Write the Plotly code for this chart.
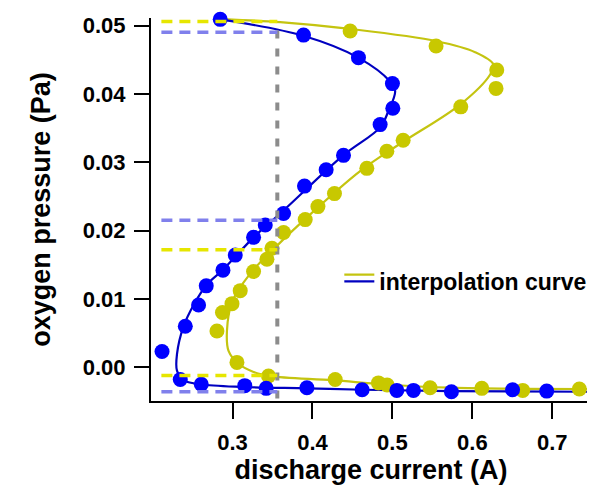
import plotly.graph_objects as go

# ---------------- data ----------------
blue_x = [0.2846, 0.3888, 0.4575, 0.5000, 0.5005, 0.4846, 0.4388, 0.4171, 0.3900,
          0.3638, 0.3409, 0.3263, 0.3034, 0.2880, 0.2671, 0.2575, 0.2409, 0.2118,
          0.2346, 0.2609, 0.3153, 0.3421, 0.3930, 0.4621, 0.5055, 0.5263, 0.5738,
          0.6503, 0.6930]
blue_y = [0.0509, 0.0486, 0.0453, 0.0415, 0.0379, 0.0355, 0.0310, 0.0289, 0.0265,
          0.0225, 0.0208, 0.0190, 0.0164, 0.0142, 0.0119, 0.0091, 0.0060, 0.0023,
          -0.0018, -0.0025, -0.0027, -0.0031, -0.0030, -0.0033, -0.0034, -0.0034,
          -0.0036, -0.0033, -0.0035]

yellow_x = [0.3596, 0.4471, 0.5546, 0.6305, 0.6296, 0.5855, 0.5134, 0.4930, 0.4680,
            0.4275, 0.4068, 0.3909, 0.3638, 0.3493, 0.3430, 0.3263, 0.3096, 0.2993,
            0.2874, 0.2805, 0.3055, 0.3450, 0.4284, 0.4825, 0.4934, 0.5471, 0.6118,
            0.6630, 0.7338]
yellow_y = [0.0512, 0.0492, 0.0470, 0.0435, 0.0408, 0.0381, 0.0332, 0.0316, 0.0291,
            0.0254, 0.0235, 0.0216, 0.0197, 0.0174, 0.0158, 0.0140, 0.0112, 0.0093,
            0.0080, 0.0053, 0.0007, -0.0013, -0.0018, -0.0023, -0.0026, -0.0030,
            -0.0031, -0.0034, -0.0032]

# interpolation curves (control points)
blue_curve_x = [0.2846, 0.3884, 0.4571, 0.4971, 0.5034, 0.4950, 0.4846, 0.4384,
                0.3634, 0.3263, 0.2884, 0.2680, 0.2513, 0.2388, 0.2305, 0.2305,
                0.2388, 0.2596, 0.3138, 0.3930, 0.4638, 0.5721, 0.7534]
blue_curve_y = [0.0509, 0.0485, 0.0453, 0.0418, 0.0404, 0.0375, 0.0351, 0.0310,
                0.0229, 0.0190, 0.0143, 0.0121, 0.0091, 0.0060, 0.0019, -0.0005,
                -0.0019, -0.0025, -0.0029, -0.0031, -0.0033, -0.0035, -0.0036]

yellow_curve_x = [0.2930, 0.3596, 0.4471, 0.5555, 0.6034, 0.6263, 0.6221, 0.5855,
                  0.5096, 0.4596, 0.3909, 0.3471, 0.3221, 0.2996, 0.2930, 0.2950,
                  0.3075, 0.3263, 0.3471, 0.4259, 0.4884, 0.5721, 0.7534]
yellow_curve_y = [0.0509, 0.0505, 0.0495, 0.0477, 0.0461, 0.0443, 0.0428, 0.0385,
                  0.0327, 0.0287, 0.0217, 0.0168, 0.0137, 0.0096, 0.0053, 0.0024,
                  0.0005, -0.0007, -0.0013, -0.0019, -0.0025, -0.0030, -0.0032]

# reference (dashed) levels
marker_current = 0.356
yellow_levels = [0.0506, 0.0172, -0.0012]
blue_levels = [0.0490, 0.0215, -0.0036]
dash_start = 0.211
vline_y = [-0.0046, 0.0506]

x_ticks = [0.3, 0.4, 0.5, 0.6, 0.7]
x_ticklabels = ["0.3", "0.4", "0.5", "0.6", "0.7"]
y_ticks = [0.00, 0.01, 0.02, 0.03, 0.04, 0.05]
y_ticklabels = ["0.00", "0.01", "0.02", "0.03", "0.04", "0.05"]

# ---------------- styles ----------------
FONT = "Liberation Sans, Arial, sans-serif"
YEL_MK = "#C8C800"
YEL_LN = "#C4C410"
YEL_DASH = "#E6E600"
BLU_MK = "#0000FF"
BLU_LN = "#0000C0"
BLU_DASH = "#8080EC"
GRAY = "#8C8C8C"

fig = go.Figure()

# interpolation curves
fig.add_trace(go.Scatter(x=yellow_curve_x, y=yellow_curve_y, mode="lines",
                         line=dict(color=YEL_LN, width=2.2, shape="spline", smoothing=1.0),
                         name=" ", legend="legend2", showlegend=True,
                         hoverinfo="skip"))
fig.add_trace(go.Scatter(x=blue_curve_x, y=blue_curve_y, mode="lines",
                         line=dict(color=BLU_LN, width=2.2, shape="spline", smoothing=1.0),
                         name="interpolation curve", legend="legend", showlegend=True,
                         hoverinfo="skip"))

# measured points
fig.add_trace(go.Scatter(x=yellow_x, y=yellow_y, mode="markers",
                         marker=dict(color=YEL_MK, size=15, line=dict(width=0)),
                         showlegend=False, cliponaxis=False))
fig.add_trace(go.Scatter(x=blue_x, y=blue_y, mode="markers",
                         marker=dict(color=BLU_MK, size=15, line=dict(width=0)),
                         showlegend=False, cliponaxis=False))

# dashed guide lines
fig.add_trace(go.Scatter(x=[marker_current, marker_current], y=vline_y, mode="lines",
                         line=dict(color=GRAY, width=4, dash="8px,10px"),
                         showlegend=False, hoverinfo="skip", cliponaxis=False))
for lv in yellow_levels:
    fig.add_trace(go.Scatter(x=[dash_start, marker_current], y=[lv, lv], mode="lines",
                             line=dict(color=YEL_DASH, width=3.5, dash="11px,7px"),
                             showlegend=False, hoverinfo="skip", cliponaxis=False))
for lv in blue_levels:
    fig.add_trace(go.Scatter(x=[dash_start, marker_current], y=[lv, lv], mode="lines",
                             line=dict(color=BLU_DASH, width=3.5, dash="11px,7px"),
                             showlegend=False, hoverinfo="skip", cliponaxis=False))

axis_common = dict(showline=True, linewidth=2, linecolor="black", ticks="outside",
                   tickwidth=2, tickcolor="black", showgrid=False, zeroline=False,
                   mirror=False,
                   tickfont=dict(family=FONT, size=22, color="black", weight="bold"))

fig.update_layout(
    width=595, height=491,
    margin=dict(l=143, r=12, t=5, b=98),
    plot_bgcolor="white", paper_bgcolor="white",
    xaxis=dict(range=[0.198, 0.7484], tickvals=x_ticks, ticktext=x_ticklabels,
               ticklen=16, ticklabelstandoff=5,
               title=dict(text="discharge current (A)", standoff=4,
                          font=dict(family=FONT, size=27, color="black", weight="bold")),
               **axis_common),
    yaxis=dict(range=[-0.00495, 0.0511], tickvals=y_ticks, ticktext=y_ticklabels,
               ticklen=15, ticklabelstandoff=4,
               title=dict(text="oxygen pressure (Pa)", standoff=24,
                          font=dict(family=FONT, size=27, color="black", weight="bold")),
               **axis_common),
    legend=dict(x=0.428, y=0.312, xanchor="left", yanchor="middle",
                bgcolor="rgba(0,0,0,0)", borderwidth=0,
                font=dict(family=FONT, size=23, color="black", weight="bold")),
    legend2=dict(x=0.428, y=0.330, xanchor="left", yanchor="middle",
                 bgcolor="rgba(0,0,0,0)", borderwidth=0,
                 font=dict(family=FONT, size=23, color="black", weight="bold")),
)

fig.write_html("out.html")
